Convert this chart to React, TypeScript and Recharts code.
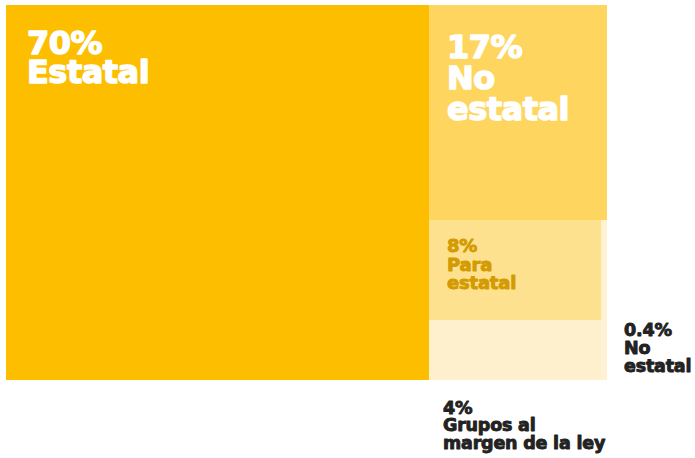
import { Treemap } from 'recharts';

const names = ['Estatal', 'No estatal', 'Para estatal', 'Grupos al margen de la ley', 'No estatal'];
const pctLabels = ['70%', '17%', '8%', '4%', '0.4%'];
// block sizes (areas), labels keep the rounded shares
const sizes = [70.4, 17.0, 7.6, 4.6, 0.43];
const nameLines = [
  ['Estatal'],
  ['No', 'estatal'],
  ['Para', 'estatal'],
  ['Grupos al', 'margen de la ley'],
  ['No', 'estatal'],
];

const FILLS = ['#FDBE00', '#FED65F', '#FEE18F', '#FFF0CD', '#FFF1D3'];
const TEXT_COLORS = ['#ffffff', '#ffffff', '#D39B00', '#222222', '#222222'];

// label placement per block: where the text starts relative to its rect
const LABEL_STYLE = [
  { place: 'inside', dx: 21, dy: 49, size: 32, lh: 29, sw: 1.4, ls: -0.5 },
  { place: 'inside', dx: 18, dy: 53, size: 32, lh: 31, sw: 1.4, ls: -0.5 },
  { place: 'inside', dx: 18, dy: 32, size: 18, lh: 18.7, sw: 0.9, ls: -0.2 },
  { place: 'below', dx: 14, dy: 34, size: 17.5, lh: 17.3, sw: 0.9, ls: -0.2 },
  { place: 'right', dx: 17, dy: -44, size: 17.5, lh: 18, sw: 0.9, ls: -0.2 },
];

const treeData = names.map((name, i) => ({ name, size: sizes[i], idx: i }));

function Block(props: any) {
  const { x, y, width, height, depth } = props;
  if (depth !== 1) return null;
  const i = props.idx ?? props.index;
  const st = LABEL_STYLE[i];
  let tx = x + st.dx;
  let ty = y + st.dy;
  if (st.place === 'below') ty = y + height + st.dy;
  if (st.place === 'right') {
    tx = x + width + st.dx;
    ty = y + height + st.dy;
  }
  const lines = [pctLabels[i], ...nameLines[i]];
  return (
    <g>
      <rect x={x} y={y} width={width} height={height} fill={FILLS[i]} stroke="none" />
      <text
        x={tx}
        y={ty}
        fill={TEXT_COLORS[i]}
        stroke={TEXT_COLORS[i]}
        strokeWidth={st.sw}
        strokeLinejoin="round"
        fontSize={st.size}
        fontWeight={700}
        fontFamily="'DejaVu Sans', sans-serif"
        letterSpacing={st.ls}
      >
        {lines.map((l, k) => (
          <tspan key={k} x={tx} dy={k === 0 ? 0 : st.lh}>
            {l}
          </tspan>
        ))}
      </text>
    </g>
  );
}

export default function App() {
  return (
    <div style={{ position: 'absolute', left: 6, top: 5, width: 689, height: 453 }}>
      <style>{`.recharts-surface { overflow: visible; } .recharts-wrapper { overflow: visible; }`}</style>
      <Treemap
        width={601}
        height={375}
        data={treeData}
        dataKey="size"
        nameKey="name"
        isAnimationActive={false}
        content={<Block />}
      />
    </div>
  );
}
